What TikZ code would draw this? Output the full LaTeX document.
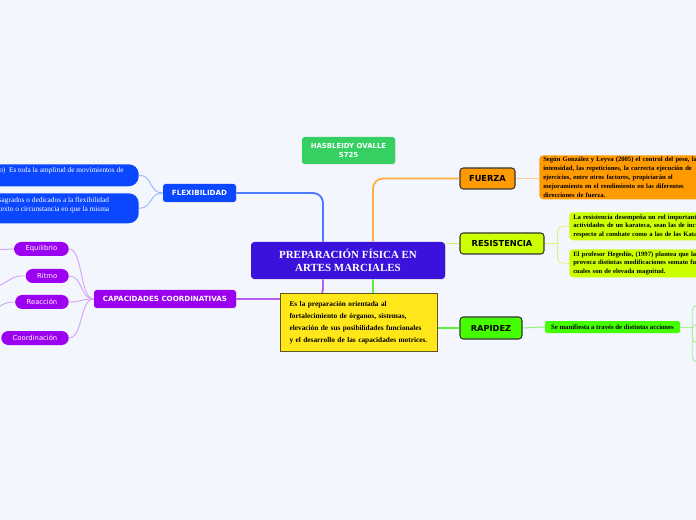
\documentclass[tikz,border=0pt]{standalone}
\usepackage{fontspec}
\setmainfont{Liberation Serif}
\newfontfamily\mapsans{DejaVu Sans}
\usetikzlibrary{calc,positioning,shadows}

\definecolor{mapbg}{HTML}{F3F6FD}
\definecolor{centre}{HTML}{3A12DC}
\definecolor{autorgreen}{HTML}{35CF62}
\definecolor{flexblue}{HTML}{0A47FF}
\definecolor{purp}{HTML}{9B00F0}
\definecolor{orange1}{HTML}{FF9A00}
\definecolor{lime1}{HTML}{CCFF00}
\definecolor{green1}{HTML}{44FF00}
\definecolor{noteyellow}{HTML}{FFE71A}
\definecolor{noteedge}{HTML}{5E5520}
\definecolor{boxedge}{HTML}{333333}
\definecolor{flexline}{HTML}{4C7BFF}
\definecolor{purpline}{HTML}{B560F2}
\definecolor{orangeline}{HTML}{FFAE40}
\definecolor{greenline}{HTML}{5CEE38}
\definecolor{limeline}{HTML}{DDEE70}
\definecolor{leafblueline}{HTML}{9DB6FF}
\definecolor{pillline}{HTML}{D4A6F8}
\definecolor{limeleafline}{HTML}{E2F07E}
\definecolor{greenleafline}{HTML}{A6F09A}

\begin{document}
\begin{tikzpicture}[x=0.75pt, y=-0.75pt,
    main_box/.style={rectangle, fill=centre, text=white, rounded corners=2.5pt, align=center, inner sep=0pt,
        font=\bfseries\fontsize{8.2}{9.75}\selectfont, minimum width=145.5pt, minimum height=27.75pt,
        drop shadow={opacity=0.2, shadow xshift=0.6pt, shadow yshift=-0.6pt}},
    topic_box/.style={rectangle, rounded corners=2pt, text=white, inner sep=0pt, minimum height=13.5pt,
        font=\mapsans\bfseries\fontsize{5.35}{6.75}\selectfont,
        drop shadow={opacity=0.2, shadow xshift=0.5pt, shadow yshift=-0.5pt}},
    branch_box/.style={rectangle, draw=boxedge, line width=0.8pt, rounded corners=2.5pt, inner sep=0pt,
        minimum height=15.75pt, font=\mapsans\bfseries\fontsize{6.2}{7}\selectfont},
    note_box/.style={rectangle, rounded corners=3pt, align=left, inner xsep=3pt, inner ysep=0pt, anchor=north west,
        font=\bfseries\fontsize{4.95}{6.6}\selectfont},
    leaf_box/.style={rectangle, fill=flexblue, rounded corners=7.5pt, anchor=north east, minimum width=150pt},
    leaf_text/.style={text=white, inner sep=0pt, anchor=west, align=left, font=\fontsize{5.5}{7}\selectfont},
    pill/.style={rectangle, rounded corners=5.25pt, fill=purp, text=white, anchor=east, inner xsep=8.6pt, inner ysep=0pt,
        minimum height=10.5pt, font=\mapsans\fontsize{5.1}{6}\selectfont},
    main_line/.style={line width=1.4pt, rounded corners=7.5pt},
    thin_line/.style={line width=0.7pt}
]
\useasboundingbox (0,0) rectangle (696,520);
\fill[mapbg] (0,0) rectangle (696,520);
\clip (0,0) rectangle (696,520);

% centre and author
\node[main_box] (centre) at (348,260.5) {PREPARACIÓN FÍSICA EN\\ARTES MARCIALES};
\node[topic_box, fill=autorgreen, align=center, minimum width=69.75pt, minimum height=20.25pt,
      font=\mapsans\bfseries\fontsize{5.2}{6.75}\selectfont] (autor) at (348.5,150.5) {HASBLEIDY OVALLE\\S725};

% left side
\node[topic_box, fill=flexblue, minimum width=54.75pt] (flexi) at (199.5,193) {FLEXIBILIDAD};
\node[leaf_box, minimum height=16.5pt] (flexa) at (139,164) {};
\node[leaf_text] (flexatxt) at (-1,170.5) {o)\enspace Es toda la amplitud de movimientos de};
\node[leaf_box, minimum height=22.5pt] (flexb) at (139,193) {};
\node[leaf_text] (flexbtxt) at (-12,205.5) {consagrados o dedicados a la flexibilidad\\contexto o circunstancia en que la misma};

\node[topic_box, fill=purp, minimum width=106.5pt] (capac) at (165,299) {CAPACIDADES COORDINATIVAS};
\node[pill] (equil) at (69,249) {Equilibrio};
\node[pill] (ritmo) at (69,276) {Ritmo};
\node[pill] (reac) at (69,302) {Reacción};
\node[pill] (coord) at (69,338) {Coordinación};

% right side
\node[branch_box, fill=orange1, minimum width=41.25pt] (fuerza) at (487.5,178.5) {FUERZA};
\node[note_box, fill=orange1, text width=124pt, minimum height=33pt] (fuerzatxt) at (539,155) {Según González y Leyva (2005) el control del peso, la\\intensidad, las repeticiones, la correcta ejecución de\\ejercicios, entre otros factores, propiciarán el\\mejoramiento en el rendimiento en las diferentes\\direcciones de fuerza.};

\node[branch_box, fill=lime1, minimum width=63pt] (resist) at (502,243.5) {RESISTENCIA};
\node[note_box, fill=lime1, text width=124pt, minimum height=21pt] (resa) at (569,212) {La resistencia desempeña un rol importante en las\\actividades de un karateca, sean las de incidencia\\respecto al combate como a las de las Katas.};
\node[note_box, fill=lime1, text width=124pt, minimum height=21pt] (resb) at (569,249) {El profesor Hegedüs, (1997) plantea que la\\provoca distintas modificaciones somato funcionales\\cuales son de elevada magnitud.};

\node[branch_box, fill=green1, minimum width=46.5pt, minimum height=16.5pt] (rapidez) at (491,328) {RAPIDEZ};
\node[note_box, anchor=center, fill=green1, rounded corners=1.5pt, minimum width=101.25pt, minimum height=9pt,
      font=\bfseries\fontsize{5.05}{6}\selectfont] (rapa) at (612.5,327) {Se manifiesta a través de distintas acciones};

% connectors from the centre
\draw[main_line, flexline] ($(centre.north)+(-25,0)$) |- (flexi.east);
\draw[main_line, orangeline] ($(centre.north)+(25,0)$) |- (fuerza.west);
\draw[main_line, purpline] ($(centre.south)+(-25,0)$) |- (capac.east);
\draw[main_line, greenline] ($(centre.south)+(25,0)$) |- (rapidez.west);
\draw[thin_line, limeline, line width=1pt] (resist.west -| centre.east) -- (resist.west);

% flexibilidad
\foreach \leaf in {flexa,flexb}
  \draw[thin_line, leafblueline] (flexi.west) .. controls +(-14,0) and +(14,0) .. (\leaf.east);

% capacidades coordinativas
\foreach \leaf in {equil,ritmo,reac,coord}
  \draw[thin_line, pillline] (capac.west) .. controls +(-14,0) and +(14,0) .. (\leaf.east);
\coordinate (equilx) at (-10,250);
\coordinate (ritmox) at (-10,291);
\coordinate (reacx) at (-10,311);
\draw[thin_line, pillline] (equil.west) -- (equilx);
\draw[thin_line, pillline, rounded corners=3pt] (ritmo.west) -- ++(-9,0) -- (ritmox);
\draw[thin_line, pillline, rounded corners=3pt] (reac.west) -- ++(-7,0) -- (reacx);

% fuerza and resistencia
\draw[thin_line, orangeline!60] (fuerza.east) -- (fuerzatxt.west |- fuerza.east);
\coordinate (resfork) at ($(resist.east)+(13,0)$);
\draw[thin_line, limeleafline] (resist.east) -- (resfork);
\draw[thin_line, limeleafline, rounded corners=4pt] (resfork) |- (resa.west);
\draw[thin_line, limeleafline, rounded corners=4pt] (resfork) |- (resb.west);

% rapidez
\draw[thin_line, greenline!70] (rapidez.east) -- (rapa.west);
\coordinate (rapfork) at ($(rapa.east)+(12,0)$);
\coordinate (rapx1) at (706,305);
\coordinate (rapx2) at (706,324);
\coordinate (rapx3) at (706,343);
\coordinate (rapx4) at (706,362);
\draw[thin_line, greenleafline] (rapa.east) -- (rapfork);
\foreach \tip in {rapx1,rapx2,rapx3,rapx4}
  \draw[thin_line, greenleafline, rounded corners=4pt] (rapfork) |- (\tip);

% definition box over the green connector
\node[rectangle, draw=noteedge, fill=noteyellow, line width=0.8pt, anchor=north west, minimum width=116.25pt,
      minimum height=43.5pt, text width=104pt, inner xsep=6.75pt, inner ysep=0pt, align=left,
      font=\bfseries\fontsize{5.5}{9}\selectfont,
      drop shadow={opacity=0.2, shadow xshift=0.6pt, shadow yshift=-0.6pt}] (nota) at (280,293)
      {Es la preparación orientada al\\fortalecimiento de órganos, sistemas,\\elevación de sus posibilidades funcionales\\y el desarrollo de las capacidades motrices.};
\end{tikzpicture}
\end{document}
